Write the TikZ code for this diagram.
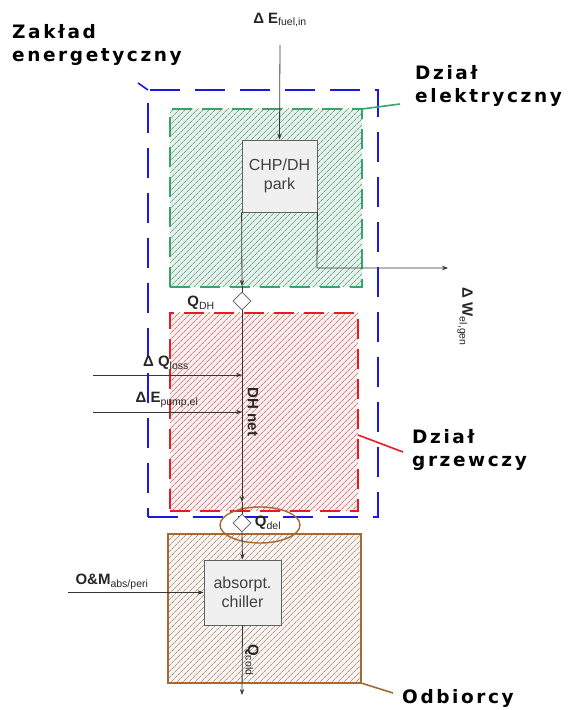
\documentclass[tikz,border=0pt]{standalone}
\usepackage{fontspec}
\setmainfont{Liberation Sans}
\newfontfamily\regionfont{DejaVu Sans}[LetterSpace=14]
\usetikzlibrary{arrows.meta,shapes.geometric,patterns.meta,positioning}

\definecolor{zakblue}{RGB}{25,25,225}
\definecolor{elgreen}{RGB}{55,165,105}
\definecolor{grzred}{RGB}{235,25,35}
\definecolor{odbrown}{RGB}{165,105,50}
\definecolor{flowgray}{RGB}{55,55,55}

\newcommand{\lowtxt}[1]{\textsubscript{\mdseries #1}}

\tikzset{
  flow/.style={flowgray, line width=0.8pt, -{Stealth[length=6pt,width=4.5pt]}},
  plain/.style={flowgray, line width=0.8pt},
  regionbox/.style={rectangle, inner sep=0pt, outer sep=0pt},
  unitbox/.style={rectangle, draw=gray!75!black, fill=gray!12, line width=0.8pt,
    font=\fontsize{16}{19}\selectfont, text=black!75, align=center, inner sep=0pt},
  valve/.style={diamond, draw=gray!70!black, fill=white, line width=0.8pt,
    minimum width=18pt, minimum height=18pt, inner sep=0pt},
  regionlabel/.style={font=\regionfont\bfseries\fontsize{18.5}{23}\selectfont,
    align=left, anchor=north west, inner sep=0pt},
  flowlabel/.style={font=\bfseries\fontsize{15}{17}\selectfont, text=black!85, inner sep=0pt}
}

\begin{document}
\begin{tikzpicture}[x=1pt,y=1pt]
\useasboundingbox (0,0) rectangle (568,710);

% regions
\node [regionbox, draw=zakblue, line width=2.8pt, dash pattern=on 30pt off 15pt,
  minimum width=230pt, minimum height=427pt] (zaklad) at (263,406.5) {};
\node [regionbox, draw=elgreen, line width=2.4pt, dash pattern=on 20pt off 10pt,
  preaction={fill=elgreen!14},
  pattern={Lines[angle=45,distance=4pt,line width=0.8pt]}, pattern color=elgreen!50!gray!85,
  minimum width=192pt, minimum height=178pt] (elektr) at (266,512) {};
\node [regionbox, draw=grzred, line width=2.4pt, dash pattern=on 20pt off 10pt,
  preaction={fill=grzred!8},
  pattern={Lines[angle=45,distance=4pt,line width=0.8pt]}, pattern color=grzred!45!gray!75,
  minimum width=188pt, minimum height=198pt] (grzew) at (264,298) {};
\node [regionbox, draw=odbrown, line width=1.6pt,
  preaction={fill=odbrown!7},
  pattern={Lines[angle=45,distance=4pt,line width=0.8pt]}, pattern color=odbrown!40!gray!75,
  minimum width=193pt, minimum height=149pt] (odb) at (264.5,101.5) {};

% region labels and leaders
\node [regionlabel] (zakladlbl) at (12,686) {Zakład\\energetyczny};
\node [regionlabel] (elektrlbl) at (415,645) {Dział\\elektryczny};
\node [regionlabel] (grzewlbl) at (412,281) {Dział\\grzewczy};
\node [regionlabel] (odblbl) at (402,21) {Odbiorcy};
\coordinate (zakladtip) at (138,627);
\coordinate (elektrtip) at (400,606);
\coordinate (grzewtip) at (403,258);
\coordinate (odbtip) at (393,17);
\draw [zakblue, line width=1.6pt] (zaklad.north west) -- (zakladtip);
\draw [elgreen, line width=1.6pt] (elektr.north east) -- (elektrtip);
\draw [grzred, line width=1.6pt] ([yshift=-23pt]grzew.east) -- (grzewtip);
\draw [odbrown, line width=1.6pt] (odb.south east) -- (odbtip);

% units
\node [unitbox, minimum width=75pt, minimum height=72pt] (chp) at (279.5,534) {CHP/DH\\park};
\node [unitbox, minimum width=77pt, minimum height=65pt] (chiller) at (242.5,117.5) {absorpt.\\chiller};
\node [valve] (qdh) at (242,409) {};
\draw [odbrown, line width=1.4pt] (260,185) ellipse [x radius=40pt, y radius=18pt];
\node [valve] (qdel) at (242,187) {};

% flows
\coordinate (fuelin) at (280,665);
\coordinate (elbend) at (317,442);
\coordinate (elout) at (448,442);
\coordinate (qdhin) at (242,424);
\coordinate (netend) at (242,208);
\coordinate (lossin) at (93,335);
\coordinate (lossjoin) at (242,335);
\coordinate (pumpin) at (93,298);
\coordinate (pumpjoin) at (242,298);
\coordinate (omin) at (68,117.5);
\coordinate (coldout) at (242,15);

\draw [flow] (fuelin) -- (chp.north);
\draw [flow] (chp.south east) -- (elbend) -- (elout);
\draw [flow] (chp.south west) -- (qdhin);
\draw [plain] (qdhin) -- (qdh.north);
\draw [flow] (qdh.south) -- (netend);
\draw [plain] (netend) -- (qdel.north);
\draw [flow] (qdel.south) -- (chiller.north);
\draw [flow] (lossin) -- (lossjoin);
\draw [flow] (pumpin) -- (pumpjoin);
\draw [flow] (omin) -- (chiller.west);
\draw [flow] (chiller.south) -- (coldout);

% flow labels
\node [flowlabel] (fuellbl) at (280,690) {Δ E\lowtxt{fuel,in}};
\node [flowlabel, rotate=-90] (elgenlbl) at (465,393) {Δ W\lowtxt{el,gen}};
\node [flowlabel] (qdhlbl) at (201,407) {Q\lowtxt{DH}};
\node [flowlabel] (losslbl) at (166,347) {Δ Q\lowtxt{loss}};
\node [flowlabel] (pumplbl) at (167,310) {Δ E\lowtxt{pump,el}};
\node [flowlabel, rotate=-90] (netlbl) at (253,298) {DH net};
\node [flowlabel] (qdellbl) at (268,187) {Q\lowtxt{del}};
\node [flowlabel] (omlbl) at (112,128) {O\&M\lowtxt{abs/peri}};
\node [flowlabel, rotate=-90] (coldlbl) at (252,50) {Q\lowtxt{cold}};
\end{tikzpicture}
\end{document}
